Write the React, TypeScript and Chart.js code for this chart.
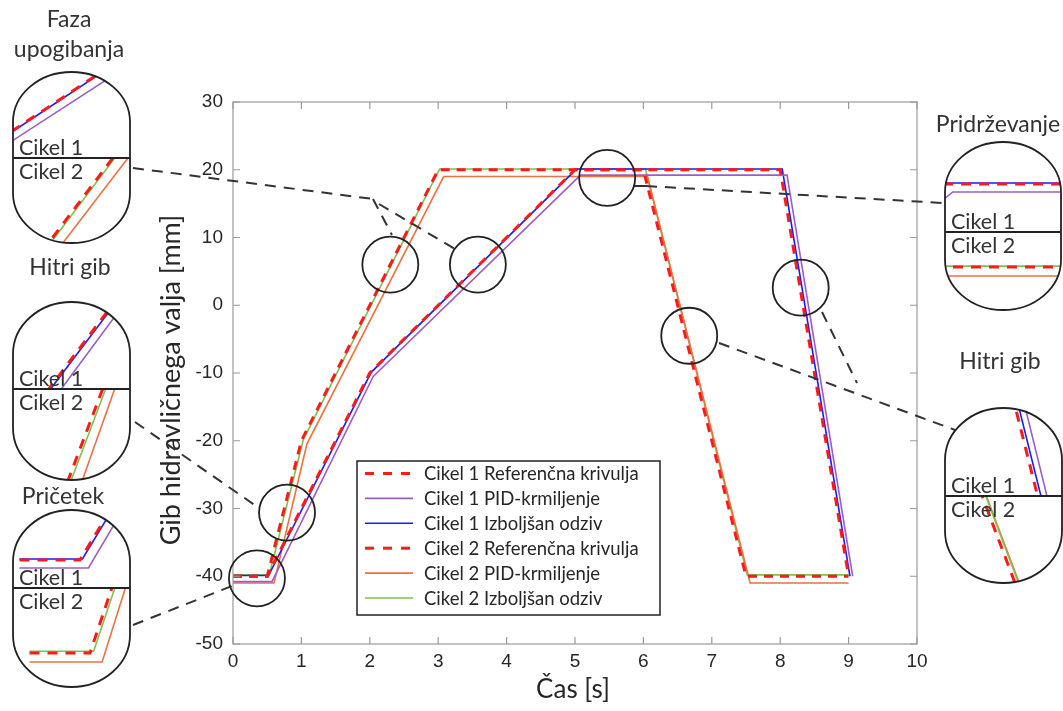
import React, { useEffect, useRef } from "react";
import { Chart, registerables } from "chart.js";

Chart.register(...registerables);

// ---------------- data ----------------
const xTicks = [0, 1, 2, 3, 4, 5, 6, 7, 8, 9, 10];
const yTicks = [-50, -40, -30, -20, -10, 0, 10, 20, 30];

const ref1T = [0, 0.5, 2.0, 5.0, 8.0, 9.0];
const ref1V = [-40, -40, -10, 20, 20, -40];
const pid1T = [0, 0.57, 2.05, 5.08, 8.1, 9.06];
const pid1V = [-40.8, -40.8, -10.5, 19.2, 19.2, -40];
const izb1T = [0, 0.52, 2.02, 5.02, 8.03, 9.02];
const izb1V = [-39.9, -39.9, -9.9, 20.1, 20.1, -40];

const ref2T = [0, 0.5, 1.0, 3.0, 6.0, 7.5, 9.0];
const ref2V = [-40, -40, -20, 20, 20, -40, -40];
const pid2T = [0, 0.6, 1.08, 3.08, 6.06, 7.56, 9.0];
const pid2V = [-41, -41, -20.5, 19, 19, -41, -41];
const izb2T = [0, 0.53, 1.03, 3.02, 6.03, 7.52, 9.0];
const izb2V = [-39.8, -39.8, -19.8, 20.1, 20.1, -39.8, -39.8];

const seriesLabels = [
  "Cikel 1 Referenčna krivulja",
  "Cikel 1 PID-krmiljenje",
  "Cikel 1 Izboljšan odziv",
  "Cikel 2 Referenčna krivulja",
  "Cikel 2 PID-krmiljenje",
  "Cikel 2 Izboljšan odziv",
];

// circle (zoom region) centres in data coordinates
const circleT = [0.35, 0.79, 2.3, 3.58, 5.47, 6.67, 8.3];
const circleV = [-40.3, -30.6, 6.0, 6.0, 18.8, -4.5, 2.6];

const xTitle = "Čas [s]";
const yTitle = "Gib hidravličnega valja [mm]";

// ---------------- styles ----------------
const RED = "#ff1a1a";
const PURPLE = "#9d5cc8";
const BLUE = "#1a1aff";
const ORANGE = "#ee7040";
const GREEN = "#80c050";
const AXIS = "#9a9a9a";
const TXT = "#262626";
const SANS = "Lato, 'Open Sans', sans-serif";
const TICKFONT = "'Liberation Sans', Arial, sans-serif";

type S = { t: number[]; v: number[]; color: string; dash: number[]; width: number; label: string };
const series: S[] = [
  { t: ref1T, v: ref1V, color: RED, dash: [9, 7], width: 3, label: seriesLabels[0] },
  { t: pid1T, v: pid1V, color: PURPLE, dash: [], width: 1.6, label: seriesLabels[1] },
  { t: izb1T, v: izb1V, color: BLUE, dash: [], width: 1.6, label: seriesLabels[2] },
  { t: ref2T, v: ref2V, color: RED, dash: [9, 7], width: 3, label: seriesLabels[3] },
  { t: pid2T, v: pid2V, color: ORANGE, dash: [], width: 1.6, label: seriesLabels[4] },
  { t: izb2T, v: izb2V, color: GREEN, dash: [], width: 1.6, label: seriesLabels[5] },
];

// inset definitions (layout)
type Half = { idx: number[]; tc: number; vc: number; ax: number; ay: number; kx: number; ky: number };
type Inset = { x: number; y: number; w: number; h: number; ry: number; div: number; title: string[]; tx: number; ty: number; top: Half; bot: Half };
const C1 = [1, 2, 0];
const C2 = [4, 5, 3];
const insets: Inset[] = [
  { x: 13, y: 72, w: 117, h: 171, ry: 50, div: 158, title: ["Faza", "upogibanja"], tx: 69, ty: 20,
    top: { idx: C1, tc: 3.55, vc: 5.5, ax: 50, ay: 106, kx: 121, ky: 8 },
    bot: { idx: C2, tc: 2.3, vc: 6.0, ax: 78, ay: 204, kx: 121, ky: 8 } },
  { x: 13, y: 302, w: 117, h: 178, ry: 52, div: 389, title: ["Hitri gib"], tx: 70, ty: 268,
    top: { idx: C1, tc: 0.98, vc: -30.4, ax: 76, ay: 353, kx: 121, ky: 8 },
    bot: { idx: C2, tc: 0.74, vc: -30.4, ax: 86, ay: 433, kx: 121, ky: 8 } },
  { x: 13, y: 510, w: 117, h: 177, ry: 52, div: 588, title: ["Pričetek"], tx: 63, ty: 497,
    top: { idx: C1, tc: 0.5, vc: -40, ax: 80, ay: 560, kx: 121, ky: 10 },
    bot: { idx: C2, tc: 0.5, vc: -40, ax: 90, ay: 653, kx: 121, ky: 9 } },
  { x: 945, y: 142, w: 116, h: 168, ry: 50, div: 232, title: ["Pridrževanje"], tx: 998, ty: 125,
    top: { idx: C1, tc: 5.47, vc: 20, ax: 1000, ay: 184, kx: 121, ky: 10 },
    bot: { idx: C2, tc: 5.47, vc: 20, ax: 1000, ay: 267, kx: 121, ky: 9 } },
  { x: 945, y: 408, w: 117, h: 175, ry: 52, div: 496, title: ["Hitri gib"], tx: 1000, ty: 362,
    top: { idx: C1, tc: 8.29, vc: 2.7, ax: 1027, ay: 453, kx: 121, ky: 8 },
    bot: { idx: C2, tc: 6.61, vc: -4.4, ax: 998, ay: 538, kx: 121, ky: 8 } },
];

// connector lines (pixel layout)
const dashedLines: number[][] = [
  [133, 168, 373, 199],
  [373, 199, 392, 235],
  [379, 204, 455, 249],
  [135, 422, 259, 508],
  [133, 625, 232, 586],
  [646, 186, 943, 203],
  [719, 343, 955, 430],
  [822, 312, 857, 383],
];
const solidLines: number[][] = [[633, 186, 646, 186]];

function capsulePath(ctx: CanvasRenderingContext2D, c: Inset) {
  const rx = c.w / 2;
  const cx = c.x + rx;
  ctx.beginPath();
  ctx.ellipse(cx, c.y + c.ry, rx, c.ry, 0, Math.PI, 2 * Math.PI);
  ctx.lineTo(c.x + c.w, c.y + c.h - c.ry);
  ctx.ellipse(cx, c.y + c.h - c.ry, rx, c.ry, 0, 0, Math.PI);
  ctx.closePath();
}

function drawHalf(ctx: CanvasRenderingContext2D, c: Inset, h: Half, y0: number, y1: number) {
  ctx.save();
  capsulePath(ctx, c);
  ctx.clip();
  ctx.beginPath();
  ctx.rect(c.x - 2, y0, c.w + 4, y1 - y0);
  ctx.clip();
  for (const i of h.idx) {
    const s = series[i];
    ctx.beginPath();
    s.t.forEach((t, k) => {
      const px = h.ax + (t - h.tc) * h.kx;
      const py = h.ay - (s.v[k] - h.vc) * h.ky;
      if (k === 0) ctx.moveTo(px, py);
      else ctx.lineTo(px, py);
    });
    ctx.strokeStyle = s.color;
    ctx.lineWidth = s.dash.length ? 3 : 1.6;
    ctx.setLineDash(s.dash.length ? [10, 8] : []);
    ctx.stroke();
  }
  ctx.restore();
}

const annotPlugin = {
  id: "annot",
  afterDraw(chart: any) {
    const ctx: CanvasRenderingContext2D = chart.ctx;
    const xs = chart.scales.x;
    const ys = chart.scales.y;
    const ca = chart.chartArea;
    ctx.save();
    // axes box and inward ticks
    ctx.strokeStyle = AXIS;
    ctx.lineWidth = 1.2;
    ctx.setLineDash([]);
    ctx.strokeRect(ca.left, ca.top, ca.right - ca.left, ca.bottom - ca.top);
    ctx.beginPath();
    xs.ticks.forEach((tk: any) => {
      const px = xs.getPixelForValue(tk.value);
      ctx.moveTo(px, ca.bottom);
      ctx.lineTo(px, ca.bottom - 7);
      ctx.moveTo(px, ca.top);
      ctx.lineTo(px, ca.top + 7);
    });
    ys.ticks.forEach((tk: any) => {
      const py = ys.getPixelForValue(tk.value);
      ctx.moveTo(ca.left, py);
      ctx.lineTo(ca.left + 7, py);
      ctx.moveTo(ca.right, py);
      ctx.lineTo(ca.right - 7, py);
    });
    ctx.stroke();

    // axis titles
    ctx.fillStyle = TXT;
    ctx.font = `26px ${SANS}`;
    ctx.textAlign = "center";
    ctx.textBaseline = "middle";
    ctx.fillText(xTitle, (ca.left + ca.right) / 2 - 2, 690);
    ctx.save();
    ctx.translate(171, 380);
    ctx.rotate(-Math.PI / 2);
    ctx.font = `27px ${SANS}`;
    ctx.fillText(yTitle, 0, 0);
    ctx.restore();

    // connectors
    ctx.strokeStyle = "#333";
    ctx.lineWidth = 2;
    ctx.setLineDash([11, 8]);
    dashedLines.forEach((l) => {
      ctx.beginPath();
      ctx.moveTo(l[0], l[1]);
      ctx.lineTo(l[2], l[3]);
      ctx.stroke();
    });
    ctx.setLineDash([]);
    solidLines.forEach((l) => {
      ctx.beginPath();
      ctx.moveTo(l[0], l[1]);
      ctx.lineTo(l[2], l[3]);
      ctx.stroke();
    });

    // circles
    ctx.strokeStyle = "#222";
    ctx.lineWidth = 1.8;
    circleT.forEach((t, i) => {
      ctx.beginPath();
      ctx.arc(xs.getPixelForValue(t), ys.getPixelForValue(circleV[i]), 28, 0, 2 * Math.PI);
      ctx.stroke();
    });

    // legend
    const lx = 357, ly = 461, lw = 303, lh = 154;
    ctx.fillStyle = "#fff";
    ctx.fillRect(lx, ly, lw, lh);
    ctx.strokeStyle = "#222";
    ctx.lineWidth = 1.5;
    ctx.strokeRect(lx, ly, lw, lh);
    ctx.font = `18.5px ${SANS}`;
    ctx.textAlign = "left";
    ctx.textBaseline = "middle";
    series.forEach((s, i) => {
      const y = ly + 12.5 + i * 24.9;
      ctx.beginPath();
      ctx.moveTo(lx + 8, y);
      ctx.lineTo(lx + 56, y);
      ctx.strokeStyle = s.color;
      ctx.lineWidth = s.dash.length ? 3 : 1.6;
      ctx.setLineDash(s.dash.length ? [9, 9] : []);
      ctx.stroke();
      ctx.setLineDash([]);
      ctx.fillStyle = TXT;
      ctx.fillText(s.label, lx + 67, y + 1);
    });

    // insets
    insets.forEach((c) => {
      capsulePath(ctx, c);
      ctx.fillStyle = "#fff";
      ctx.fill();
      drawHalf(ctx, c, c.top, c.y - 2, c.div);
      drawHalf(ctx, c, c.bot, c.div, c.y + c.h + 2);
      ctx.setLineDash([]);
      ctx.strokeStyle = "#222";
      ctx.lineWidth = 1.8;
      capsulePath(ctx, c);
      ctx.stroke();
      ctx.beginPath();
      ctx.moveTo(c.x, c.div);
      ctx.lineTo(c.x + c.w, c.div);
      ctx.stroke();
      ctx.fillStyle = "#333";
      ctx.font = `21.5px ${SANS}`;
      ctx.textAlign = "left";
      ctx.textBaseline = "alphabetic";
      ctx.fillText("Cikel 1", c.x + 6, c.div - 3);
      ctx.fillText("Cikel 2", c.x + 6, c.div + 21);
      ctx.textAlign = "center";
      ctx.textBaseline = "middle";
      ctx.font = `23px ${SANS}`;
      c.title.forEach((line, k) => ctx.fillText(line, c.tx, c.ty + k * 30));
    });
    ctx.restore();
  },
};

export default function App() {
  const ref = useRef<HTMLCanvasElement | null>(null);
  useEffect(() => {
    if (!ref.current) return;
    const datasets = series.map((s) => ({
      label: s.label,
      data: s.t.map((t, i) => ({ x: t, y: s.v[i] })),
      borderColor: s.color,
      borderWidth: s.width,
      borderDash: s.dash,
      pointRadius: 0,
      fill: false,
      tension: 0,
    }));
    const chart = new Chart(ref.current, {
      type: "line",
      data: { datasets },
      options: {
        animation: false,
        responsive: true,
        maintainAspectRatio: false,
        layout: { padding: { top: 102, right: 146, bottom: 0, left: 0 } },
        plugins: { legend: { display: false }, tooltip: { enabled: false } },
        scales: {
          x: {
            type: "linear",
            min: 0,
            max: 10,
            afterFit: (s: any) => { s.height = 67; },
            afterBuildTicks: (s: any) => { s.ticks = xTicks.map((v) => ({ value: v })); },
            grid: { display: false, drawTicks: false },
            border: { display: false },
            ticks: { color: TXT, font: { family: TICKFONT, size: 19 }, padding: 6 },
          },
          y: {
            type: "linear",
            min: -50,
            max: 30,
            afterFit: (s: any) => { s.width = 233; },
            afterBuildTicks: (s: any) => { s.ticks = yTicks.map((v) => ({ value: v })); },
            grid: { display: false, drawTicks: false },
            border: { display: false },
            ticks: { color: TXT, font: { family: TICKFONT, size: 19 }, padding: 10 },
          },
        },
      },
      plugins: [annotPlugin],
    });
    return () => chart.destroy();
  }, []);
  return (
    <div style={{ position: "fixed", left: 0, top: 0, width: 1063, height: 711, background: "#fff" }}>
      <canvas ref={ref} />
    </div>
  );
}
